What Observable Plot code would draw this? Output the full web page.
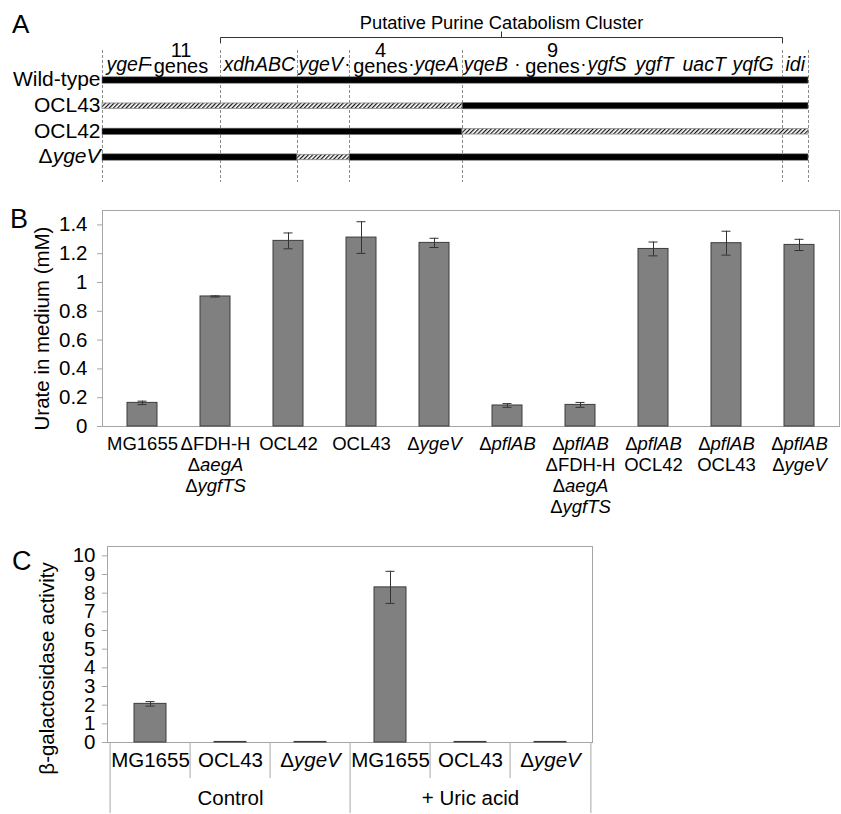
<!DOCTYPE html>
<html>
<head>
<meta charset="utf-8">
<script src="https://cdn.jsdelivr.net/npm/d3@7"></script>
<script src="https://cdn.jsdelivr.net/npm/@observablehq/plot@0.6"></script>
<style>
  html, body { margin: 0; padding: 0; background: #fff; overflow: hidden; }
  #fig { position: relative; width: 841px; height: 814px; font-family: "Liberation Sans", Arial, sans-serif; background: #fff; }
  .panel { position: absolute; left: 0; }
  .letter { position: absolute; font-size: 27px; line-height: 1; color: #000; font-family: "Liberation Sans", Arial, sans-serif; }
</style>
</head>
<body>
<svg width="0" height="0" style="position:absolute">
  <defs>
    <pattern id="hatch" width="3" height="3" patternUnits="userSpaceOnUse" patternTransform="rotate(45)">
      <rect width="3" height="3" fill="#fff"></rect>
      <line x1="0.6" y1="0" x2="0.6" y2="3" stroke="#111" stroke-width="1.2"></line>
    </pattern>
  </defs>
</svg>
<div id="fig">
  <div class="panel" id="pA" style="top:0px"></div>
  <div class="panel" id="pB" style="top:190px"></div>
  <div class="panel" id="pC" style="top:530px"></div>
  <div class="letter" style="left:12px;top:11px;font-size:26px">A</div>
  <div class="letter" style="left:10px;top:206px">B</div>
  <div class="letter" style="left:12px;top:548px">C</div>
</div>
<script>
// ================= DATA =================
// Panel A: schematic gene map (map units along the chromosome segment)
const strainsA = ["Wild-type", "OCL43", "OCL42", "Δ*ygeV*"];
const boundaries = [0, 118, 195, 247, 360, 680, 706];
const segStrain  = [0, 1, 1, 2, 2, 3, 3, 3];
const segStart   = [0, 0, 4, 0, 4, 0, 2, 3];
const segEnd     = [6, 4, 6, 4, 6, 2, 3, 6];
const segDeleted = [false, true, false, false, true, false, true, false];
const geneNames  = ["ygeF", "xdhABC", "ygeV", "yqeA", "yqeB", "ygfS", "ygfT", "uacT", "yqfG", "idi"];
const geneStart  = [4, 121, 196, 312, 361, 485, 533, 580, 630, 683];
const countLabels = ["11\ngenes", "4\ngenes", "9\ngenes"];
const countPos    = [78.5, 278, 450];
const dotPos      = [48, 245, 309, 415, 481];
const clusterLabel = "Putative Purine Catabolism Cluster";

// Panel B: urate in medium (mM)
const strainsB = [
  "MG1655",
  "ΔFDH-H\nΔ*aegA*\nΔ*ygfTS*",
  "OCL42",
  "OCL43",
  "Δ*ygeV*",
  "Δ*pflAB*",
  "Δ*pflAB*\nΔFDH-H\nΔ*aegA*\nΔ*ygfTS*",
  "Δ*pflAB*\nOCL42",
  "Δ*pflAB*\nOCL43",
  "Δ*pflAB*\nΔ*ygeV*"
];
const urate    = [0.164, 0.903, 1.289, 1.312, 1.275, 0.146, 0.150, 1.233, 1.273, 1.261];
const urateErr = [0.012, 0.004, 0.055, 0.110, 0.032, 0.013, 0.017, 0.048, 0.083, 0.039];
const yTicksB  = [0, 0.2, 0.4, 0.6, 0.8, 1, 1.2, 1.4];
const yLabelB  = "Urate in medium (mM)";

// Panel C: beta-galactosidase activity
const groupsC   = ["Control", "+ Uric acid"];
const strainsC  = ["MG1655", "OCL43", "Δ*ygeV*"];
const activity    = [2.07, 0.03, 0.03, 8.31, 0.03, 0.03];
const activityErr = [0.12, 0, 0, 0.86, 0, 0];
const yTicksC  = [0, 1, 2, 3, 4, 5, 6, 7, 8, 9, 10];
const yLabelC  = "β-galactosidase activity";

// ================= HELPERS =================
const FONT = "'Liberation Sans', Arial, Helvetica, sans-serif";
function italicize(svg) {
  svg.querySelectorAll("text, tspan").forEach(node => {
    if (node.children.length) return;
    const s = node.textContent;
    if (!s.includes("*")) return;
    node.textContent = "";
    s.split(/(\*[^*]+\*)/).forEach(part => {
      if (!part) return;
      const t = document.createElementNS("http://www.w3.org/2000/svg", "tspan");
      if (part.startsWith("*") && part.endsWith("*")) {
        t.setAttribute("font-style", "italic");
        t.textContent = part.slice(1, -1);
      } else t.textContent = part;
      node.appendChild(t);
    });
  });
}

// ================= PANEL A =================
{
  const H = 190, rowPx = 25.67, row0 = 80;
  const yu = px => (px - row0) / rowPx;
  const segs = segStrain.map((s, i) => ({
    row: s, x1: boundaries[segStart[i]], x2: boundaries[segEnd[i]], del: segDeleted[i]
  }));
  const hs = 3.2 / rowPx, hh = 2.7 / rowPx;
  const b1 = boundaries[1], b5 = boundaries[5], mid = (b1 + b5) / 2;
  const bracket = [
    {x: b1, y: yu(42.5)}, {x: b1, y: yu(37)}, {x: b5, y: yu(37)}, {x: b5, y: yu(42.5)}
  ];
  const chartA = Plot.plot({
    width: 841, height: H,
    marginLeft: 102, marginRight: 33, marginTop: 0, marginBottom: 0,
    style: {fontFamily: FONT, background: "#fff", color: "#000"},
    x: {domain: [boundaries[0], boundaries[boundaries.length - 1]], axis: null},
    y: {domain: [yu(0), yu(H)], range: [0, H], axis: null},
    marks: [
      Plot.ruleX(boundaries, {x: d => d, y1: yu(50), y2: yu(182), stroke: "#8a8a8a", strokeWidth: 1, strokeDasharray: "3,2"}),
      Plot.rect(segs.filter(d => !d.del), {x1: "x1", x2: "x2", y1: d => d.row - hs, y2: d => d.row + hs, fill: "#000", stroke: "#777", strokeWidth: 0.6}),
      Plot.rect(segs.filter(d => d.del), {x1: "x1", x2: "x2", y1: d => d.row - hh, y2: d => d.row + hh, fill: "url(#hatch)", stroke: "#8a8a8a", strokeWidth: 0.8}),
      Plot.text(strainsA, {x: 0, y: (d, i) => i, text: d => d, textAnchor: "end", dx: -2, dy: -1, fontSize: 21, fill: "#000"}),
      Plot.text(geneNames, {x: (d, i) => geneStart[i], y: yu(70.5), text: d => d, textAnchor: "start", fontStyle: "italic", fontSize: 19.5, lineAnchor: "bottom", fill: "#000"}),
      Plot.text(countLabels, {x: (d, i) => countPos[i], y: yu(72.5), text: d => d, fontSize: 20, lineHeight: 0.8, lineAnchor: "bottom", fill: "#000"}),
      Plot.text(dotPos, {x: d => d, y: yu(69), text: () => "·", fontSize: 19, lineAnchor: "bottom", fill: "#000"}),
      Plot.line(bracket, {x: "x", y: "y", stroke: "#333", strokeWidth: 1}),
      Plot.ruleX([mid], {x: d => d, y1: yu(37), y2: yu(31.5), stroke: "#333", strokeWidth: 1}),
      Plot.text([clusterLabel], {x: mid, y: yu(28), text: d => d, fontSize: 18.3, lineAnchor: "bottom", fill: "#000"})
    ]
  });
  italicize(chartA);
  document.getElementById("pA").appendChild(chartA);
}

// ================= PANEL B =================
{
  const dataB = strainsB.map((s, i) => ({s, v: urate[i], e: urateErr[i]}));
  const chartB = Plot.plot({
    width: 841, height: 330,
    marginLeft: 102, marginRight: 2, marginTop: 20, marginBottom: 94,
    style: {fontFamily: FONT, background: "#fff", color: "#000"},
    x: {domain: strainsB, paddingInner: 0.593, paddingOuter: 0.2965, align: 0.5},
    y: {domain: [0, 1.5]},
    marks: [
      Plot.frame({stroke: "#a6a6a6"}),
      Plot.barY(dataB, {x: "s", y: "v", fill: "#808080", stroke: "#3c3c3c", strokeWidth: 1}),
      Plot.ruleX(dataB, {x: "s", y1: d => d.v - d.e, y2: d => d.v + d.e, stroke: "#333", strokeWidth: 1}),
      Plot.tickY(dataB, {x: "s", y: d => d.v - d.e, stroke: "#333", strokeWidth: 1, inset: 10.5}),
      Plot.tickY(dataB, {x: "s", y: d => d.v + d.e, stroke: "#333", strokeWidth: 1, inset: 10.5}),
      Plot.axisY({ticks: yTicksB, tickFormat: d => String(d), tickSize: 5, tickPadding: 10, fontSize: 20.5, stroke: "#a6a6a6", fill: "#000", label: null}),
      Plot.axisX({tickSize: 0, tickPadding: 8, fontSize: 18.5, lineHeight: 1.15, fill: "#000", label: null}),
      Plot.text([yLabelB], {frameAnchor: "left", textAnchor: "middle", lineAnchor: "middle", rotate: -90, dx: -60, dy: 10, text: d => d, fontSize: 20.5, fill: "#000"})
    ]
  });
  italicize(chartB);
  document.getElementById("pB").appendChild(chartB);
}

// ================= PANEL C =================
{
  const W = 841, H = 284, mL = 107, mR = 249, mT = 16, mB = 72, yMax = 10.5;
  const dataC = [];
  groupsC.forEach((g, gi) => strainsC.forEach((s, si) => {
    const i = gi * strainsC.length + si;
    dataC.push({key: g + "|" + s, v: activity[i], e: activityErr[i]});
  }));
  const keys = dataC.map(d => d.key);
  const step = (W - mL - mR) / keys.length;
  const pxPerUnit = (H - mT - mB) / yMax;
  const edges = d3.range(keys.length + 1).map(i => ({i, long: i % strainsC.length === 0}));
  const edgeLen = e => -(e.long ? 71 : 36) / pxPerUnit;
  const chartC = Plot.plot({
    width: W, height: H,
    marginLeft: mL, marginRight: mR, marginTop: mT, marginBottom: mB,
    style: {fontFamily: FONT, background: "#fff", color: "#000"},
    x: {domain: keys, paddingInner: 0.604, paddingOuter: 0.302, align: 0.5},
    y: {domain: [0, yMax]},
    marks: [
      Plot.frame({stroke: "#a6a6a6"}),
      Plot.ruleX(edges.filter(e => e.i < keys.length), {x: e => keys[e.i], dx: -step / 2, y1: 0, y2: edgeLen, stroke: "#a6a6a6", strokeWidth: 1}),
      Plot.ruleX(edges.filter(e => e.i === keys.length), {x: () => keys[keys.length - 1], dx: step / 2, y1: 0, y2: edgeLen, stroke: "#a6a6a6", strokeWidth: 1}),
      Plot.barY(dataC, {x: "key", y: "v", fill: "#808080", stroke: "#3c3c3c", strokeWidth: 1}),
      Plot.ruleX(dataC.filter(d => d.e > 0), {x: "key", y1: d => d.v - d.e, y2: d => d.v + d.e, stroke: "#333", strokeWidth: 1}),
      Plot.tickY(dataC.filter(d => d.e > 0), {x: "key", y: d => d.v - d.e, stroke: "#333", strokeWidth: 1, inset: 11.5}),
      Plot.tickY(dataC.filter(d => d.e > 0), {x: "key", y: d => d.v + d.e, stroke: "#333", strokeWidth: 1, inset: 11.5}),
      Plot.axisY({ticks: yTicksC, tickFormat: d => String(d), tickSize: 5, tickPadding: 7, fontSize: 20.5, stroke: "#a6a6a6", fill: "#000", label: null}),
      Plot.axisX({tickSize: 0, tickPadding: 10, fontSize: 20.5, tickFormat: k => k.split("|")[1], fill: "#000", label: null}),
      Plot.text(groupsC, {x: (g, gi) => keys[gi * strainsC.length + 1], frameAnchor: "bottom", dy: 62, text: d => d, fontSize: 20.5, fill: "#000"}),
      Plot.text([yLabelC], {frameAnchor: "left", textAnchor: "middle", lineAnchor: "middle", rotate: -90, dx: -60, dy: 24, text: d => d, fontSize: 20.5, fill: "#000"})
    ]
  });
  italicize(chartC);
  document.getElementById("pC").appendChild(chartC);
}
</script>
</body>
</html>
